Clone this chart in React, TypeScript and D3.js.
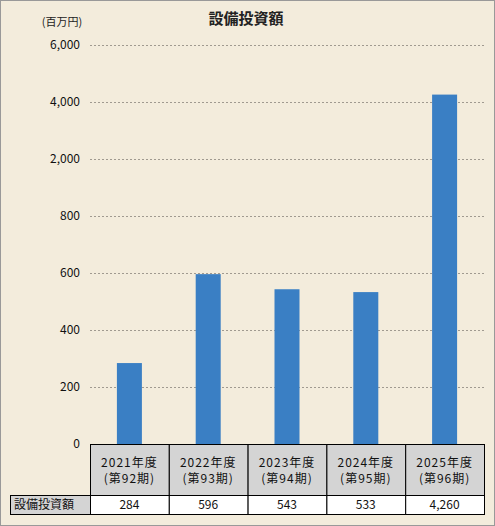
import React from "react";
import * as d3 from "d3";

const categories = ["2021年度", "2022年度", "2023年度", "2024年度", "2025年度"];
const periods = ["(第92期)", "(第93期)", "(第94期)", "(第95期)", "(第96期)"];
const values = [284, 596, 543, 533, 4260];
const tickValues = [0, 200, 400, 600, 800, 2000, 4000, 6000];
const seriesName = "設備投資額";
const title = "設備投資額";
const unit = "(百万円)";

export default function App() {
  const W = 495, H = 526;
  const plotL = 90, plotR = 484, plotTop = 45, plotBottom = 444;
  const rowH1 = 51, rowH2 = 19;
  const x = d3.scaleBand<string>().domain(categories).range([plotL, plotR]);
  const step = (plotBottom - plotTop) / (tickValues.length - 1);
  const y = d3
    .scaleLinear()
    .domain(tickValues)
    .range(tickValues.map((_, i) => plotBottom - i * step));
  const fmt = d3.format(",");
  const barW = 25;
  const font = "'MS UI Gothic','Noto Sans CJK JP',sans-serif";
  const tableTop = plotBottom;
  const row2Top = tableTop + rowH1;
  return (
    <svg width={W} height={H} style={{ position: "absolute", left: 0, top: 0 }} fontFamily={font}>
      <rect x={0.5} y={0.5} width={W - 1} height={H - 1} fill="#f3ecdc" stroke="#999" />
      <text x={246} y={24} textAnchor="middle" fontSize={15} fontWeight="bold" fill="#222">{title}</text>
      <text x={62} y={26} textAnchor="middle" fontSize={11} fill="#222">{unit}</text>
      {tickValues.map((t) => (
        <g key={t}>
          {t !== 0 && (
            <line x1={plotL} x2={plotR} y1={y(t) + 0.5} y2={y(t) + 0.5} stroke="#a09a90" strokeDasharray="2,2" />
          )}
          <text x={80} y={y(t) + 4} textAnchor="end" fontSize={12} fill="#111">{fmt(t)}</text>
        </g>
      ))}
      {values.map((v, i) => {
        const cx = x(categories[i])! + x.bandwidth() / 2;
        return (
          <rect key={i} x={cx - barW / 2} y={y(v)} width={barW} height={plotBottom - y(v)} fill="#3a7fc4" />
        );
      })}
      {categories.map((c, i) => {
        const x0 = x(c)!;
        const cx = x0 + x.bandwidth() / 2;
        return (
          <g key={c}>
            <rect x={x0 + 0.5} y={tableTop + 0.5} width={x.bandwidth()} height={rowH1} fill="#d4d4d4" stroke="#000" />
            <text x={cx} y={tableTop + 23} textAnchor="middle" fontSize={12} fill="#111" letterSpacing={1}>{c}</text>
            <text x={cx} y={tableTop + 39} textAnchor="middle" fontSize={12} fill="#111" letterSpacing={1}>{periods[i]}</text>
            <rect x={x0 + 0.5} y={row2Top + 0.5} width={x.bandwidth()} height={rowH2} fill="#fff" stroke="#000" />
            <text x={cx} y={row2Top + 14} textAnchor="middle" fontSize={12} fill="#111">{fmt(values[i])}</text>
          </g>
        );
      })}
      <rect x={10.5} y={row2Top + 0.5} width={plotL - 10} height={rowH2} fill="#d4d4d4" stroke="#000" />
      <text x={14} y={row2Top + 14} fontSize={12} fill="#111">{seriesName}</text>
    </svg>
  );
}
